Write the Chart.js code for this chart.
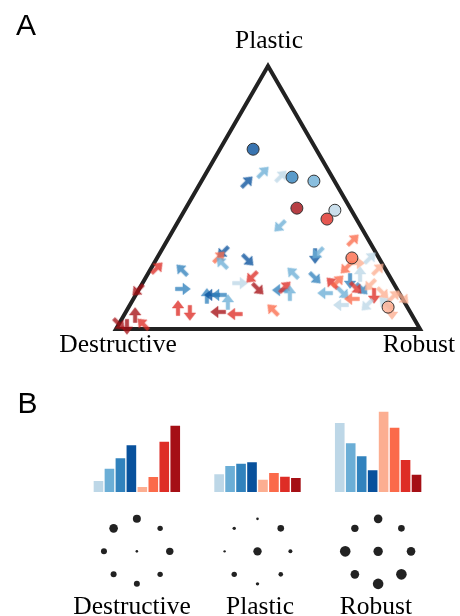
<!DOCTYPE html>
<html>
<head>
<meta charset="utf-8">
<script src="https://cdn.jsdelivr.net/npm/chart.js@4.4.0/dist/chart.umd.min.js"></script>
<style>
    body { margin: 0; background: #fff; }
    #page { position: relative; width: 460px; height: 616px; overflow: hidden; }
    canvas { position: absolute; left: 0; }
    .lbl { position: absolute; white-space: nowrap; line-height: 1; font-family: "Liberation Serif", "Times New Roman", serif; font-size: 25.5px; color: #000; transform: translateX(-50%); }
    .panel { position: absolute; line-height: 1; font-family: "Liberation Sans", Arial, sans-serif; font-size: 30px; color: #000; }
</style>
</head>
<body>
<div id="page">
    <canvas id="triangle" width="460" height="360" style="top:0"></canvas>
    <canvas id="bars" width="460" height="100" style="top:400px"></canvas>
    <canvas id="moves" width="460" height="100" style="top:500px"></canvas>

    <div class="panel" style="left:16px; top:9.6px">A</div>
    <div class="panel" style="left:17.6px; top:387.6px">B</div>
    <div class="lbl" style="left:269px; top:26.6px">Plastic</div>
    <div class="lbl" style="left:118px; top:330.6px">Destructive</div>
    <div class="lbl" style="left:419px; top:330.6px">Robust</div>
    <div class="lbl" style="left:132px; top:592.6px">Destructive</div>
    <div class="lbl" style="left:260px; top:592.6px">Plastic</div>
    <div class="lbl" style="left:376px; top:592.6px">Robust</div>
</div>
<script>
// colours of the 8 strategies (4 blue, 4 red)
const strategyColors = ['#bdd7e7', '#6baed6', '#3182bd', '#08519c', '#fcae91', '#fb6a4a', '#de2d26', '#a50f15'];

// panel A: position in the triangle (side = 100) and direction of each arrow
const arrowX = [43.1, 48.4, 54.3, 53.9, 13.5, 7.2, 21.7, 22.0, 20.4, 24.3,
    6.3, 1.0, 3.6, 8.9, 35.2, 33.9, 34.9, 43.4, 40.8, 44.7,
    46.7, 29.9, 31.6, 33.9, 36.8, 33.6, 39.1, 51.6, 53.9, 55.6,
    57.2, 65.5, 66.4, 58.2, 65.5, 71.1, 73.0, 68.8, 74.7, 74.0,
    78.0, 75.7, 79.3, 83.6, 80.3, 86.2, 77.0, 80.9, 83.6, 77.6,
    84.9, 87.8, 82.6, 88.5, 91.4, 94.4, 90.8, 78.9];
const arrowY = [48.4, 51.6, 50.3, 33.9, 20.1, 12.8, 19.4, 13.2, 6.9, 5.3,
    4.6, 1.6, 0.7, 1.6, 25.3, 23.7, 21.7, 22.7, 15.1, 17.1,
    13.2, 10.9, 11.2, 11.2, 8.9, 5.6, 4.9, 6.3, 12.8, 13.8,
    11.8, 24.0, 25.0, 18.4, 16.8, 15.1, 15.8, 11.8, 11.8, 7.9,
    29.3, 20.1, 21.7, 23.4, 18.1, 19.7, 15.8, 13.2, 14.5, 9.9,
    10.9, 11.8, 7.9, 8.6, 10.9, 10.2, 5.6, 13.5];
const arrowDir = ['NE', 'NE', 'NE', 'SW', 'NE', 'SW', 'NW', 'E', 'N', 'S',
    'N', 'SE', 'S', 'NW', 'SW', 'NE', 'NW', 'SE', 'E', 'SW',
    'SE', 'N', 'W', 'W', 'N', 'W', 'W', 'NW', 'W', 'NE',
    'N', 'S', 'SW', 'NW', 'SE', 'NW', 'NE', 'W', 'SE', 'W',
    'NE', 'SW', 'E', 'NE', 'N', 'NE', 'S', 'SE', 'SW', 'W',
    'S', 'SE', 'SW', 'NW', 'NE', 'SE', 'S', 'SE'];
const arrowStrategy = [3, 1, 0, 1, 6, 7, 2, 2, 6, 6,
    7, 7, 7, 6, 3, 5, 1, 3, 0, 6,
    7, 2, 3, 2, 1, 7, 6, 5, 2, 6,
    1, 3, 1, 1, 2, 6, 5, 1, 1, 0,
    5, 5, 4, 0, 0, 4, 2, 2, 4, 5,
    6, 4, 0, 0, 4, 4, 4, 6];

// panel A: mean position of each strategy
const centroidX = [45.1, 57.9, 65.1, 72.0, 59.5, 69.4, 77.6, 89.5];
const centroidY = [59.2, 50.0, 48.7, 39.1, 39.8, 36.2, 23.4, 7.2];
const centroidStrategy = [3, 2, 1, 0, 7, 6, 5, 4];

// panel B: share of each strategy per outcome
const outcomes = ['Destructive', 'Plastic', 'Robust'];
const destructiveBars = [11.7, 24.0, 34.3, 47.3, 5.7, 15.7, 51.0, 67.0];
const plasticBars = [18.3, 26.7, 29.0, 30.3, 13.0, 19.7, 16.0, 14.7];
const robustBars = [69.7, 49.3, 36.3, 22.3, 81.0, 65.0, 32.7, 18.0];

// panel B: frequency of each move (8 directions + staying put)
const moveDirs = ['N', 'NE', 'E', 'SE', 'S', 'SW', 'W', 'NW', 'none'];
const destructiveMoves = [16.0, 7.3, 13.7, 7.3, 9.0, 9.0, 9.0, 18.5, 1.7];
const plasticMoves = [1.7, 11.0, 4.0, 5.3, 2.9, 7.3, 1.4, 2.9, 17.6];
const robustMoves = [18.5, 11.0, 18.5, 28.0, 28.0, 18.5, 28.0, 13.7, 22.0];

const dirAngle = { E: 0, NE: 45, N: 90, NW: 135, W: 180, SW: 225, S: 270, SE: 315 };

function alpha(hex, a) {
    const n = parseInt(hex.slice(1), 16);
    return `rgba(${n >> 16}, ${(n >> 8) & 255}, ${n & 255}, ${a})`;
}

// arrow glyph pointing right, rotated per point by chart.js
function makeArrow(color) {
    const c = document.createElement('canvas');
    c.width = 18;
    c.height = 18;
    const g = c.getContext('2d');
    g.fillStyle = alpha(color, 0.78);
    g.strokeStyle = alpha(color, 0.35);
    g.lineWidth = 1;
    g.beginPath();
    g.moveTo(1.5, 7.2);
    g.lineTo(9, 7.2);
    g.lineTo(9, 3.2);
    g.lineTo(16.5, 9);
    g.lineTo(9, 14.8);
    g.lineTo(9, 10.8);
    g.lineTo(1.5, 10.8);
    g.closePath();
    g.fill();
    g.stroke();
    return c;
}

const arrowImages = strategyColors.map(makeArrow);

const baseOptions = {
    responsive: false,
    animation: false,
    events: [],
    plugins: { legend: { display: false }, tooltip: { enabled: false } }
};

// ---- panel A ----
const h = 50 * Math.sqrt(3);

new Chart(document.getElementById('triangle'), {
    type: 'scatter',
    data: {
        datasets: [
            {
                data: centroidX.map((x, i) => ({ x: x, y: centroidY[i] })),
                pointRadius: 6,
                pointBorderWidth: 1,
                pointBorderColor: '#333',
                pointBackgroundColor: centroidStrategy.map(s => alpha(strategyColors[s], 0.8)),
                clip: false
            },
            {
                data: arrowX.map((x, i) => ({ x: x, y: arrowY[i] })),
                pointRadius: 8,
                pointStyle: arrowStrategy.map(s => arrowImages[s]),
                pointRotation: arrowDir.map(d => -dirAngle[d]),
                clip: false
            },
            {
                data: [{ x: 0, y: 0 }, { x: 50, y: h }, { x: 100, y: 0 }, { x: 0, y: 0 }, { x: 50, y: h }],
                showLine: true,
                borderColor: '#222',
                borderWidth: 4,
                borderJoinStyle: 'miter',
                pointRadius: 0,
                clip: false
            }
        ]
    },
    options: {
        ...baseOptions,
        layout: { padding: { left: 116, right: 40, top: 66, bottom: 31 } },
        scales: {
            x: { type: 'linear', min: 0, max: 100, display: false },
            y: { type: 'linear', min: 0, max: h, display: false }
        }
    }
});

// ---- panel B bars ----
const groups = [destructiveBars, plasticBars, robustBars];
const barLabels = [];
const barValues = [];
const barColors = [];
groups.forEach((vals, g) => {
    vals.forEach((v, i) => {
        barLabels.push(outcomes[g]);
        barValues.push(v);
        barColors.push(strategyColors[i]);
    });
    if (g < groups.length - 1) {
        for (let k = 0; k < 3; k++) {
            barLabels.push('');
            barValues.push(null);
            barColors.push('#fff');
        }
    }
});

new Chart(document.getElementById('bars'), {
    type: 'bar',
    data: {
        labels: barLabels,
        datasets: [{
            data: barValues,
            backgroundColor: barColors,
            borderColor: 'rgba(255, 255, 255, 0.5)',
            borderWidth: 1,
            categoryPercentage: 1,
            barPercentage: 1
        }]
    },
    options: {
        ...baseOptions,
        layout: { padding: { left: 93, right: 38, top: 11, bottom: 8 } },
        scales: {
            x: { display: false },
            y: { min: 0, max: 81, display: false }
        }
    }
});

// ---- panel B move dots ----
const moveGroups = [destructiveMoves, plasticMoves, robustMoves];
const groupCenters = [3.5, 14.5, 25.5];
const dots = [];
moveGroups.forEach((vals, g) => {
    vals.forEach((v, i) => {
        const d = moveDirs[i];
        const ring = d === 'none' ? 0 : 3;
        const a = (dirAngle[d] || 0) * Math.PI / 180;
        dots.push({ x: groupCenters[g] + ring * Math.cos(a), y: ring * Math.sin(a), r: Math.sqrt(v) });
    });
});

new Chart(document.getElementById('moves'), {
    type: 'bubble',
    data: {
        datasets: [{
            data: dots,
            backgroundColor: '#222',
            borderWidth: 0,
            clip: false
        }]
    },
    options: {
        ...baseOptions,
        layout: { padding: { left: 93, right: 38, top: 8, bottom: 4 } },
        scales: {
            x: { type: 'linear', min: -0.5, max: 29.5, display: false },
            y: { type: 'linear', min: -4, max: 4, display: false }
        }
    }
});
</script>
</body>
</html>
